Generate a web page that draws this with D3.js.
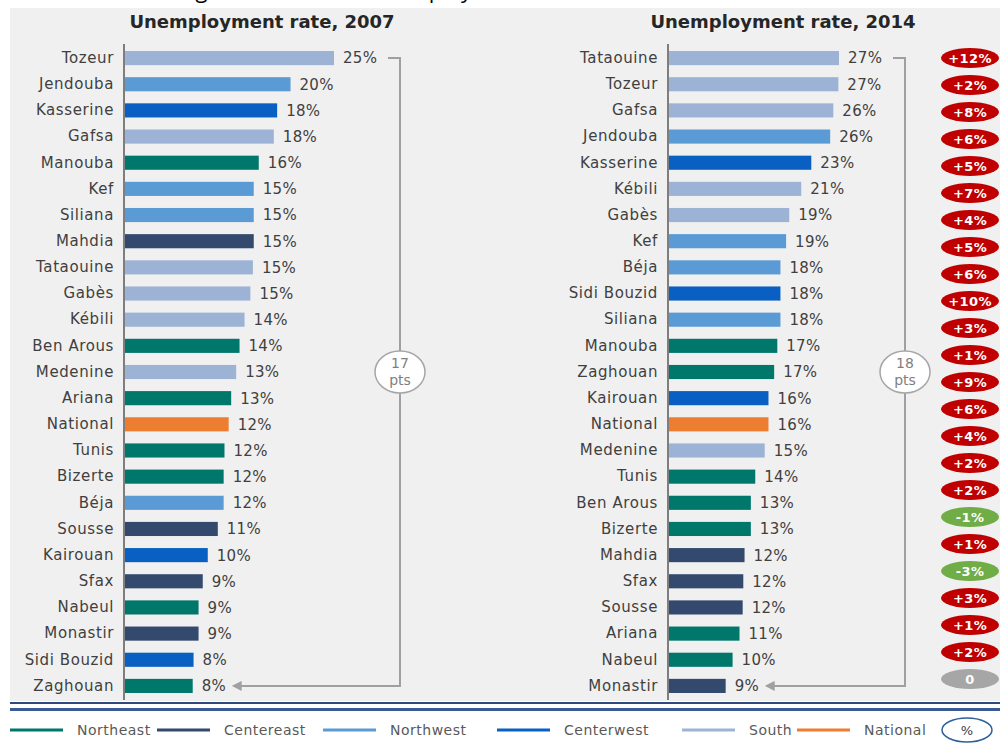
<!DOCTYPE html>
<html>
<head>
<meta charset="utf-8">
<script src="https://cdn.jsdelivr.net/npm/d3@7"></script>
<style>
  html, body { margin: 0; padding: 0; background: #fff; }
  svg { display: block; font-family: "DejaVu Sans", sans-serif; }
</style>
</head>
<body>
<svg id="chart"></svg>
<script>
// unemployment by governorate, 2007 (sorted as in the figure)
const names2007 = ['Tozeur', 'Jendouba', 'Kasserine', 'Gafsa', 'Manouba', 'Kef', 'Siliana', 'Mahdia',
    'Tataouine', 'Gabès', 'Kébili', 'Ben Arous', 'Medenine', 'Ariana', 'National', 'Tunis', 'Bizerte',
    'Béja', 'Sousse', 'Kairouan', 'Sfax', 'Nabeul', 'Monastir', 'Sidi Bouzid', 'Zaghouan'];
const rates2007 = [25.0, 19.8, 18.2, 17.8, 16.0, 15.4, 15.4, 15.4, 15.3, 15.0, 14.3, 13.7, 13.3, 12.7,
    12.4, 11.9, 11.8, 11.8, 11.1, 9.9, 9.3, 8.8, 8.8, 8.2, 8.1];
const zones2007 = ['S', 'NW', 'CW', 'S', 'NE', 'NW', 'NW', 'CE', 'S', 'S', 'S', 'NE', 'S', 'NE', 'NAT',
    'NE', 'NE', 'NW', 'CE', 'CW', 'CE', 'NE', 'CE', 'CW', 'NE'];

// unemployment by governorate, 2014
const names2014 = ['Tataouine', 'Tozeur', 'Gafsa', 'Jendouba', 'Kasserine', 'Kébili', 'Gabès', 'Kef',
    'Béja', 'Sidi Bouzid', 'Siliana', 'Manouba', 'Zaghouan', 'Kairouan', 'National', 'Medenine', 'Tunis',
    'Ben Arous', 'Bizerte', 'Mahdia', 'Sfax', 'Sousse', 'Ariana', 'Nabeul', 'Monastir'];
const rates2014 = [27.0, 26.9, 26.1, 25.6, 22.6, 21.0, 19.1, 18.6, 17.7, 17.7, 17.7, 17.2, 16.7, 15.8,
    15.8, 15.2, 13.7, 13.0, 13.0, 12.0, 11.8, 11.7, 11.2, 10.1, 9.0];
const zones2014 = ['S', 'S', 'S', 'NW', 'CW', 'S', 'S', 'NW', 'NW', 'CW', 'NW', 'NE', 'NE', 'CW', 'NAT',
    'S', 'NE', 'NE', 'NE', 'CE', 'CE', 'CE', 'NE', 'NE', 'CE'];

// change badges as printed on the right
const changes = ['+12%', '+2%', '+8%', '+6%', '+5%', '+7%', '+4%', '+5%', '+6%', '+10%', '+3%', '+1%',
    '+9%', '+6%', '+4%', '+2%', '+2%', '-1%', '+1%', '-3%', '+3%', '+1%', '+2%', '0'];

const gaps = ['17', '18'];

const legendKeys = ['NE', 'CE', 'NW', 'CW', 'S', 'NAT'];
const legendNames = ['Northeast', 'Centereast', 'Northwest', 'Centerwest', 'South', 'National'];

const colors = {
    NE: '#00776b', CE: '#34496e', NW: '#5b9bd5', CW: '#0a60c2', S: '#9db3d6', NAT: '#ed7d31'
};

const width = 1000;
const height = 744;

const svg = d3.select('#chart')
    .attr('width', width)
    .attr('height', height);

// grey panel behind both charts
svg.append('rect')
    .attr('x', 10).attr('y', 8)
    .attr('width', 990).attr('height', 693)
    .attr('fill', '#f0f0f0');

// heading from the page above, cut by the top edge as in the source
svg.append('text')
    .attr('x', 140).attr('y', -2)
    .attr('font-family', 'Open Sans, sans-serif')
    .attr('font-size', 22)
    .attr('fill', '#000')
    .text('Strong increase in the unemployment rate');

svg.append('defs').append('marker')
    .attr('id', 'arrow')
    .attr('viewBox', '0 0 10 10')
    .attr('refX', 1).attr('refY', 5)
    .attr('markerWidth', 5).attr('markerHeight', 5)
    .attr('orient', 'auto-start-reverse')
    .append('path')
    .attr('d', 'M0,0L10,5L0,10z')
    .attr('fill', '#a0a0a0');

function drawPanel(cfg) {
    const g = svg.append('g');

    const x = d3.scaleLinear()
        .domain([0, cfg.max])
        .range([cfg.x0, cfg.x1]);

    const y = d3.scaleBand()
        .domain(cfg.names)
        .range([45, 699])
        .paddingInner(0.46)
        .paddingOuter(0.23);

    g.append('text')
        .attr('x', cfg.titleX).attr('y', 28)
        .attr('text-anchor', 'middle')
        .attr('font-weight', 'bold')
        .attr('font-size', 18)
        .attr('fill', '#262626')
        .text(cfg.title);

    g.selectAll('rect.bar')
        .data(cfg.names)
        .enter().append('rect')
        .attr('class', 'bar')
        .attr('x', x(0))
        .attr('y', d => y(d))
        .attr('width', (d, i) => x(cfg.values[i]) - x(0))
        .attr('height', y.bandwidth())
        .attr('fill', (d, i) => colors[cfg.zones[i]]);

    const axis = g.append('g')
        .attr('transform', `translate(${cfg.x0 - 1},0)`)
        .call(d3.axisLeft(y).tickSize(0).tickPadding(10));
    axis.select('.domain')
        .attr('stroke', '#595959')
        .attr('stroke-width', 1.5)
        .attr('d', 'M0,44V700');
    axis.selectAll('text')
        .attr('font-family', 'DejaVu Sans, sans-serif')
        .attr('font-size', 15)
        .attr('letter-spacing', 0.6)
        .attr('fill', '#404040');

    g.selectAll('text.val')
        .data(cfg.names)
        .enter().append('text')
        .attr('class', 'val')
        .attr('x', (d, i) => x(cfg.values[i]) + 9)
        .attr('y', d => y(d) + y.bandwidth() / 2)
        .attr('dy', '0.36em')
        .attr('font-size', 15)
        .attr('letter-spacing', 0.3)
        .attr('fill', '#404040')
        .text((d, i) => Math.round(cfg.values[i]) + '%');

    // bracket showing the gap between top and bottom
    const yTop = y(cfg.names[0]) + y.bandwidth() / 2;
    const yBot = y(cfg.names[cfg.names.length - 1]) + y.bandwidth() / 2;
    const last = cfg.values[cfg.values.length - 1];
    g.append('path')
        .attr('d', `M${cfg.bx - 12},${yTop}H${cfg.bx}V${yBot}H${x(last) + 48}`)
        .attr('fill', 'none')
        .attr('stroke', '#a0a0a0')
        .attr('stroke-width', 2)
        .attr('marker-end', 'url(#arrow)');

    const yMid = (yTop + yBot) / 2;
    g.append('ellipse')
        .attr('cx', cfg.bx).attr('cy', yMid)
        .attr('rx', 25).attr('ry', 21)
        .attr('fill', '#fff')
        .attr('stroke', '#a6a6a6')
        .attr('stroke-width', 1.5);
    g.append('text')
        .attr('x', cfg.bx).attr('y', yMid - 4)
        .attr('text-anchor', 'middle')
        .attr('font-size', 14)
        .attr('fill', '#7f7f7f')
        .text(cfg.gap);
    g.append('text')
        .attr('x', cfg.bx).attr('y', yMid + 13)
        .attr('text-anchor', 'middle')
        .attr('font-size', 14)
        .attr('fill', '#7f7f7f')
        .text('pts');
}

drawPanel({
    title: 'Unemployment rate, 2007', titleX: 262,
    names: names2007, values: rates2007, zones: zones2007,
    max: 25, x0: 125, x1: 334, bx: 400, gap: gaps[0]
});

drawPanel({
    title: 'Unemployment rate, 2014', titleX: 783,
    names: names2014, values: rates2014, zones: zones2014,
    max: 27, x0: 669, x1: 839, bx: 905, gap: gaps[1]
});

// change badges
const by = d3.scalePoint()
    .domain(d3.range(changes.length))
    .range([58, 679]);

const badge = svg.append('g')
    .selectAll('g')
    .data(changes)
    .enter().append('g')
    .attr('transform', (d, i) => `translate(970,${by(i)})`);

badge.append('ellipse')
    .attr('rx', 29).attr('ry', 10)
    .attr('fill', d => d[0] === '+' ? '#c00000' : d[0] === '-' ? '#70ad47' : '#a6a6a6');

badge.append('text')
    .attr('text-anchor', 'middle')
    .attr('dy', '0.36em')
    .attr('font-size', 13)
    .attr('font-weight', 'bold')
    .attr('letter-spacing', 0.4)
    .attr('fill', '#fff')
    .text(d => d);

// double rule under the panel
svg.append('line')
    .attr('x1', 10).attr('x2', 1000)
    .attr('y1', 703).attr('y2', 703)
    .attr('stroke', '#2f4a7f').attr('stroke-width', 2);
svg.append('line')
    .attr('x1', 10).attr('x2', 1000)
    .attr('y1', 709.5).attr('y2', 709.5)
    .attr('stroke', '#3a5a96').attr('stroke-width', 3);

// legend
const legendX = [10, 157, 323, 497, 682, 797];
const legend = svg.append('g')
    .selectAll('g')
    .data(legendKeys)
    .enter().append('g')
    .attr('transform', (d, i) => `translate(${legendX[i]},730)`);

legend.append('line')
    .attr('x1', 0).attr('x2', 53)
    .attr('stroke', d => colors[d])
    .attr('stroke-width', 3);

legend.append('text')
    .attr('x', 67)
    .attr('dy', '0.36em')
    .attr('font-size', 14)
    .attr('letter-spacing', 0.5)
    .attr('fill', '#595959')
    .text((d, i) => legendNames[i]);

svg.append('ellipse')
    .attr('cx', 967).attr('cy', 730)
    .attr('rx', 25).attr('ry', 12)
    .attr('fill', '#fff')
    .attr('stroke', '#2f5f9a')
    .attr('stroke-width', 1.5);
svg.append('text')
    .attr('x', 967).attr('y', 730)
    .attr('dy', '0.36em')
    .attr('text-anchor', 'middle')
    .attr('font-size', 13)
    .attr('fill', '#404040')
    .text('%');
</script>
</body>
</html>
